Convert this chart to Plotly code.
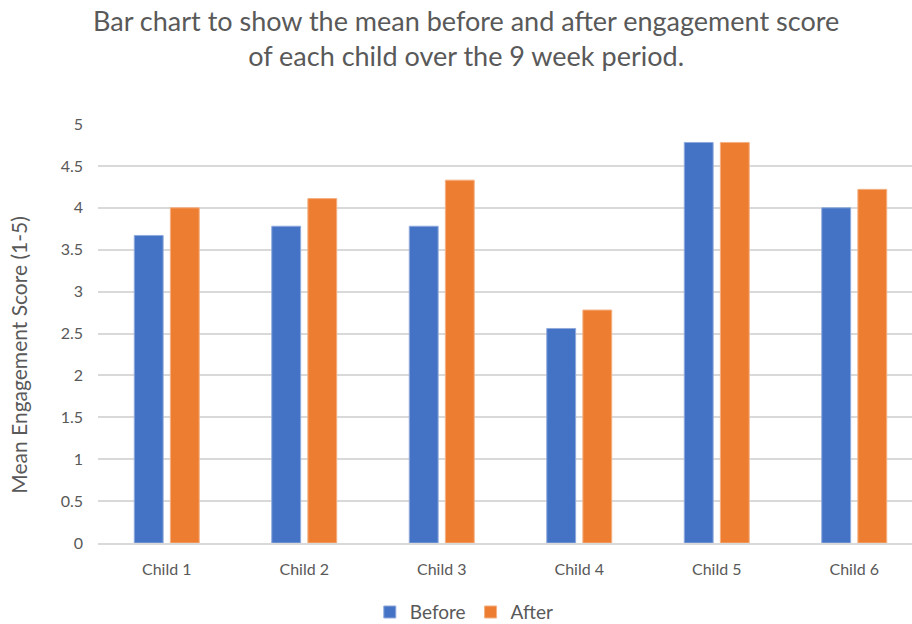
import plotly.graph_objects as go

categories = ["Child 1", "Child 2", "Child 3", "Child 4", "Child 5", "Child 6"]
before = [3.67, 3.78, 3.78, 2.56, 4.78, 4.0]
after = [4.0, 4.11, 4.33, 2.78, 4.78, 4.22]
y_ticks = [0, 0.5, 1, 1.5, 2, 2.5, 3, 3.5, 4, 4.5, 5]
y_tick_labels = ["0", "0.5", "1", "1.5", "2", "2.5", "3", "3.5", "4", "4.5", "5"]
title_text = "Bar chart to show the mean before and after engagement score<br>of each child over the 9 week period."
y_title = "Mean Engagement Score (1-5)"

FONT = "Lato"
GREY = "#595959"

fig = go.Figure()
fig.add_trace(go.Bar(name="Before", x=categories, y=before, marker_color="#4472C4",
                     marker_line_color="#8FAADC", marker_line_width=1))
fig.add_trace(go.Bar(name="After", x=categories, y=after, marker_color="#ED7D31",
                     marker_line_color="#F4B183", marker_line_width=1))

fig.add_annotation(
    text=title_text, xref="paper", yref="paper", x=0.452, y=1.205,
    xanchor="center", yanchor="middle", showarrow=False, align="center",
    font=dict(family=FONT, size=27, color=GREY),
)
fig.add_annotation(
    text=y_title, xref="paper", yref="paper", x=-0.098, y=0.45,
    xanchor="center", yanchor="middle", showarrow=False, textangle=-90,
    font=dict(family=FONT, size=21, color=GREY),
)

fig.update_layout(
    width=912, height=624,
    margin=dict(l=98, r=0, t=124, b=81, autoexpand=False),
    paper_bgcolor="white", plot_bgcolor="white",
    barmode="group", bargap=0.475, bargroupgap=0.2,
    font=dict(family=FONT, color=GREY),
    xaxis=dict(
        type="category", range=[-0.5, 5.42], automargin=False,
        showgrid=False, showline=True, linecolor="#D9D9D9", linewidth=1.5,
        ticks="", tickfont=dict(size=16, color=GREY), ticklabelstandoff=11,
    ),
    yaxis=dict(
        range=[0, 5], tickvals=y_ticks, ticktext=y_tick_labels, automargin=False,
        showgrid=True, gridcolor="#D9D9D9", gridwidth=1.5, zeroline=False,
        tickfont=dict(size=16, color=GREY), ticklabelstandoff=14,
    ),
    legend=dict(orientation="h", x=0.45, xanchor="center", y=-0.165, yanchor="middle",
                font=dict(size=19, color=GREY), itemwidth=30, traceorder="normal"),
)

fig.write_html("out.html")
